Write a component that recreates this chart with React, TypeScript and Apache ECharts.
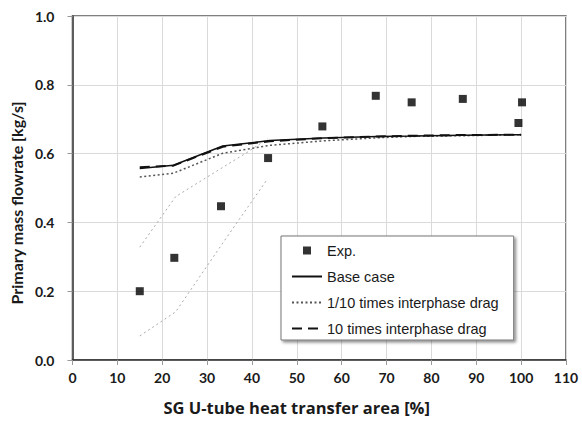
import React, { useEffect, useRef } from "react";
import * as echarts from "echarts";

const expData: [number, number][] = [
  [15, 0.2], [22.7, 0.297], [33.1, 0.447], [43.6, 0.587], [55.7, 0.679],
  [67.6, 0.768], [75.6, 0.749], [87.0, 0.759], [99.4, 0.689], [100.2, 0.749],
];
const baseCase: [number, number][] = [
  [15, 0.557], [22.5, 0.566], [33.5, 0.622], [44, 0.638], [56, 0.645],
  [68, 0.65], [76, 0.651], [87, 0.653], [100, 0.655],
];
const dragTenth: [number, number][] = [
  [15, 0.532], [22.5, 0.543], [33.5, 0.601], [44, 0.624], [56, 0.637],
  [68, 0.646], [76, 0.65], [87, 0.652], [100, 0.655],
];
const dragTen: [number, number][] = [
  [15, 0.56], [22.5, 0.565], [33.5, 0.62], [44, 0.636], [56, 0.645],
  [68, 0.65], [76, 0.652], [87, 0.654], [100, 0.655],
];
const grayUpper: [number, number][] = [
  [15, 0.328], [23, 0.475], [33.5, 0.56], [38.5, 0.6], [43.5, 0.643],
];
const grayLower: [number, number][] = [
  [15, 0.07], [23, 0.14], [33.5, 0.34], [43.5, 0.527],
];

const xTicks = { min: 0, max: 110, interval: 10 };
const yTicks = { min: 0, max: 1, interval: 0.2 };

export default function App() {
  const ref = useRef<HTMLDivElement>(null);
  useEffect(() => {
    if (!ref.current) return;
    const chart = echarts.init(ref.current, undefined, { renderer: "svg" });
    const tickFont = { fontFamily: "Lato", fontWeight: "bold" as const, fontSize: 14, color: "#1a1a1a" };
    const hideSym = { opacity: 0 };
    chart.setOption({
      animation: false,
      backgroundColor: "#ffffff",
      grid: { left: 71, top: 16, right: 16, bottom: 59, show: true, borderColor: "#555", borderWidth: 1.5 },
      xAxis: {
        type: "value",
        ...xTicks,
        name: "SG U-tube heat transfer area [%]",
        nameLocation: "middle",
        nameGap: 39,
        nameTextStyle: {
          fontFamily: "Open Sans", fontWeight: "bold", fontSize: 16.5, color: "#1a1a1a",
          padding: [0, 45, 0, 0],
        },
        axisLine: { show: true, lineStyle: { color: "#333", width: 1.5 } },
        axisTick: { show: true, inside: false, length: 5, lineStyle: { color: "#999" } },
        axisLabel: { ...tickFont, margin: 10, formatter: (v: number) => String(v) },
        splitLine: { show: true, lineStyle: { color: "#dadada", width: 1 } },
      },
      yAxis: {
        type: "value",
        ...yTicks,
        name: "Primary mass flowrate [kg/s]",
        nameLocation: "middle",
        nameGap: 46,
        nameRotate: 90,
        nameTextStyle: {
          fontFamily: "Lato", fontWeight: "bold", fontSize: 16, color: "#1a1a1a",
          padding: [0, 30, 0, 0],
        },
        axisLine: { show: true, lineStyle: { color: "#333", width: 1.5 } },
        axisTick: { show: true, inside: false, length: 5, lineStyle: { color: "#999" } },
        axisLabel: { ...tickFont, margin: 18, formatter: (v: number) => v.toFixed(1) },
        splitLine: { show: true, lineStyle: { color: "#dadada", width: 1 } },
      },
      legend: {
        left: 281,
        top: 236,
        orient: "vertical",
        symbolKeepAspect: true,
        data: [
          { name: "Exp.", icon: "path://M0,0L1,0L1,1L0,1Z" },
          { name: "Base case", itemStyle: hideSym },
          { name: "1/10 times interphase drag", itemStyle: hideSym },
          { name: "10 times interphase drag", itemStyle: hideSym },
        ],
        itemWidth: 30,
        itemHeight: 8,
        itemGap: 11,
        padding: [7, 15, 4, 10],
        backgroundColor: "#ffffff",
        borderColor: "#777",
        borderWidth: 1,
        shadowColor: "rgba(0,0,0,0.45)",
        shadowBlur: 3,
        shadowOffsetX: 2,
        shadowOffsetY: 2,
        textStyle: { fontFamily: "Liberation Sans", fontSize: 14.5, lineHeight: 14, color: "#1a1a1a" },
      },
      series: [
        {
          name: "gray-upper",
          type: "line",
          data: grayUpper,
          symbol: "none",
          lineStyle: { color: "#aaaaaa", width: 1, type: [2, 3] },
          z: 1,
        },
        {
          name: "gray-lower",
          type: "line",
          data: grayLower,
          symbol: "none",
          lineStyle: { color: "#aaaaaa", width: 1, type: [2, 3] },
          z: 1,
        },
        {
          name: "1/10 times interphase drag",
          type: "line",
          data: dragTenth,
          symbol: "none",
          itemStyle: { color: "#555" },
          lineStyle: { color: "#555", width: 1.5, type: [2, 2.5] },
          z: 2,
        },
        {
          name: "Base case",
          type: "line",
          data: baseCase,
          symbol: "none",
          itemStyle: { color: "#111" },
          lineStyle: { color: "#111", width: 1.5 },
          z: 3,
        },
        {
          name: "10 times interphase drag",
          type: "line",
          data: dragTen,
          symbol: "none",
          itemStyle: { color: "#111" },
          lineStyle: { color: "#111", width: 2, type: [10, 6] },
          z: 4,
        },
        {
          name: "Exp.",
          type: "scatter",
          data: expData,
          symbol: "rect",
          symbolSize: 8,
          itemStyle: { color: "#000" },
          z: 5,
        },
      ],
    });
    return () => chart.dispose();
  }, []);
  return <div ref={ref} style={{ width: 582, height: 421, position: "absolute", left: 0, top: 0 }} />;
}
